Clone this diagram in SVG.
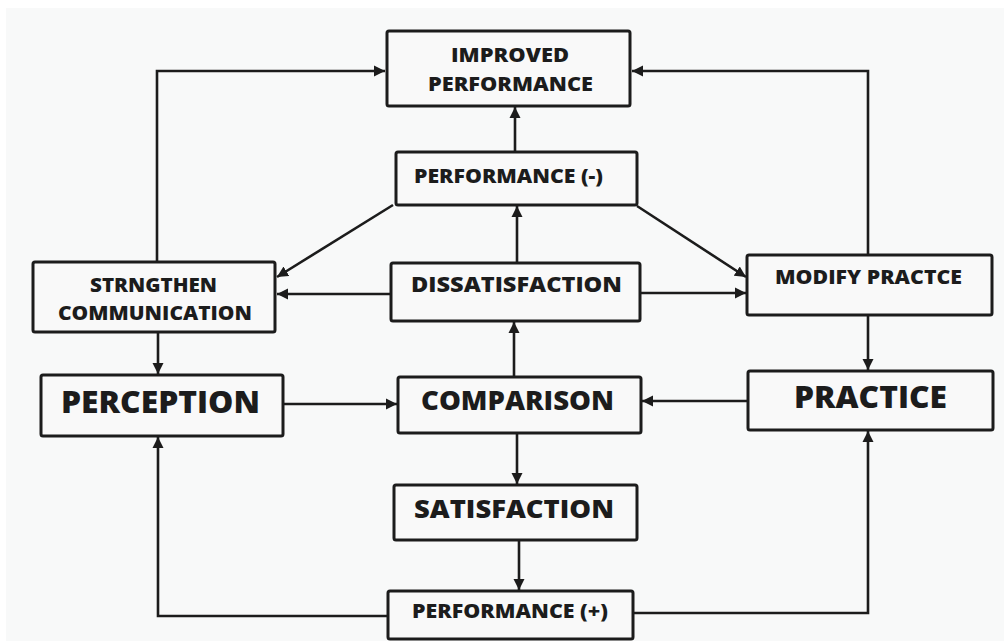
<svg xmlns="http://www.w3.org/2000/svg" width="1004" height="641" viewBox="0 0 1004 641">
<style>
.box{fill:#f9f9f9;stroke:#1c1c1c;stroke-width:3}
.t{font-family:"Open Sans","DejaVu Sans",sans-serif;font-weight:800;fill:#1c1c1c;text-anchor:middle}
.c{fill:none;stroke:#1c1c1c;stroke-width:2.6;marker-end:url(#ah)}
</style>
<defs>
<marker id="ah" markerUnits="userSpaceOnUse" markerWidth="12" markerHeight="12" viewBox="0 0 12 12" refX="11" refY="6" orient="auto">
<path d="M0,0.5 L11,6 L0,11.5 Z" fill="#1c1c1c"/>
</marker>
</defs>
<rect x="0" y="0" width="1004" height="641" fill="#ffffff"/>
<rect x="6" y="8" width="998" height="633" fill="#f8f9f9"/>
<g id="connectors">
<path class="c" d="M157 262 V71 H385"/>
<path class="c" d="M515 152 V107"/>
<path class="c" d="M393 205 L277 277"/>
<path class="c" d="M391 294 H277"/>
<path class="c" d="M517 263 V206"/>
<path class="c" d="M637 206 L746 277"/>
<path class="c" d="M640 293 H746"/>
<path class="c" d="M868 255 V71 H632"/>
<path class="c" d="M868 315 V370"/>
<path class="c" d="M748 401 H642"/>
<path class="c" d="M514 377 V322"/>
<path class="c" d="M283 404 H397"/>
<path class="c" d="M158 332 V374"/>
<path class="c" d="M517 433 V484"/>
<path class="c" d="M519 540 V590"/>
<path class="c" d="M388 616 H158 V437"/>
<path class="c" d="M633 613 H868 V431"/>
</g>
<g id="improved">
<rect class="box" x="387" y="31" width="243" height="75" rx="2"/>
<text class="t" x="510" y="62" font-size="19" textLength="118" lengthAdjust="spacingAndGlyphs">IMPROVED</text>
<text class="t" x="510.5" y="91" font-size="19" textLength="165" lengthAdjust="spacingAndGlyphs">PERFORMANCE</text>
</g>
<g id="perf-minus">
<rect class="box" x="396" y="152" width="241" height="53" rx="2"/>
<text class="t" x="508.5" y="183" font-size="19" textLength="189" lengthAdjust="spacingAndGlyphs">PERFORMANCE (-)</text>
</g>
<g id="strengthen">
<rect class="box" x="33" y="262" width="242" height="70" rx="2"/>
<text class="t" x="153.5" y="292" font-size="20" textLength="127" lengthAdjust="spacingAndGlyphs">STRNGTHEN</text>
<text class="t" x="155" y="320" font-size="20" textLength="194" lengthAdjust="spacingAndGlyphs">COMMUNICATION</text>
</g>
<g id="dissatisfaction">
<rect class="box" x="391" y="263" width="249" height="58" rx="2"/>
<text class="t" x="516.5" y="292" font-size="21" textLength="211" lengthAdjust="spacingAndGlyphs">DISSATISFACTION</text>
</g>
<g id="modify">
<rect class="box" x="747" y="255" width="245" height="60" rx="2"/>
<text class="t" x="868.5" y="284" font-size="20" textLength="187" lengthAdjust="spacingAndGlyphs">MODIFY PRACTCE</text>
</g>
<g id="perception">
<rect class="box" x="41" y="375" width="242" height="61" rx="2"/>
<text class="t" x="160.5" y="413" font-size="30" textLength="199" lengthAdjust="spacingAndGlyphs">PERCEPTION</text>
</g>
<g id="comparison">
<rect class="box" x="398" y="377" width="243" height="56" rx="2"/>
<text class="t" x="517.5" y="410" font-size="26.5" textLength="193" lengthAdjust="spacingAndGlyphs">COMPARISON</text>
</g>
<g id="practice">
<rect class="box" x="748" y="371" width="245" height="59" rx="2"/>
<text class="t" x="870.5" y="408" font-size="30" textLength="153" lengthAdjust="spacingAndGlyphs">PRACTICE</text>
</g>
<g id="satisfaction">
<rect class="box" x="394" y="485" width="243" height="55" rx="2"/>
<text class="t" x="514" y="518" font-size="25" textLength="200" lengthAdjust="spacingAndGlyphs">SATISFACTION</text>
</g>
<g id="perf-plus">
<rect class="box" x="388" y="591" width="245" height="48" rx="2"/>
<text class="t" x="510" y="618" font-size="19" textLength="196" lengthAdjust="spacingAndGlyphs">PERFORMANCE (+)</text>
</g>
</svg>
